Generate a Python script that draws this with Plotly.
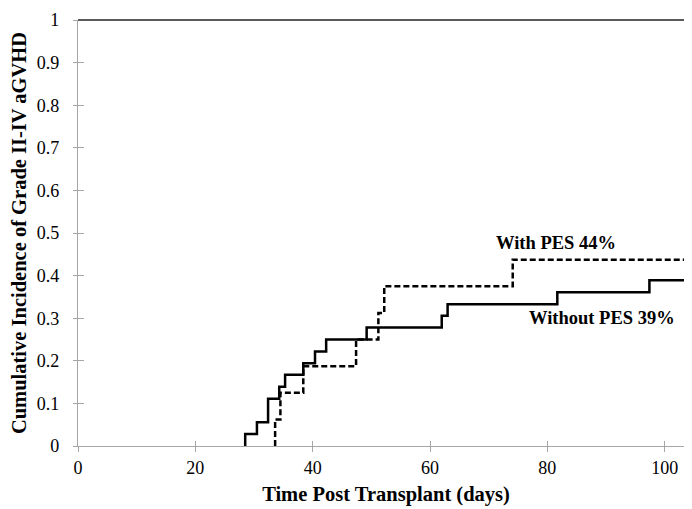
import plotly.graph_objects as go

# Data
without_times = [28.5, 30.5, 32.4, 34.3, 35.3, 38.4, 40.4, 42.3, 49.2, 62.0, 63.0, 81.7, 97.4]
without_vals = [0.028, 0.056, 0.111, 0.139, 0.167, 0.194, 0.222, 0.250, 0.278, 0.306, 0.333, 0.361, 0.389]
with_times = [33.6, 34.5, 38.4, 47.4, 51.2, 52.2, 74.1]
with_vals = [0.0625, 0.125, 0.1875, 0.25, 0.3125, 0.375, 0.4375]
x_end = 105
x_ticks = [0, 20, 40, 60, 80, 100]
y_ticks = [0, 0.1, 0.2, 0.3, 0.4, 0.5, 0.6, 0.7, 0.8, 0.9, 1]
label_with = "With PES 44%"
label_without = "Without PES 39%"
x_title = "Time Post Transplant (days)"
y_title = "Cumulative Incidence of Grade II-IV aGVHD"

FONT = "Liberation Serif"
AXIS_GRAY = "#a6a6a6"


def step_xy(times, vals):
    xs = [times[0]] + list(times) + [x_end]
    ys = [0] + list(vals) + [vals[-1]]
    return xs, ys


fig = go.Figure()
wx, wy = step_xy(without_times, without_vals)
dx, dy = step_xy(with_times, with_vals)
fig.add_trace(go.Scatter(x=wx, y=wy, mode="lines", line=dict(color="black", width=2.5, shape="hv"),
                         showlegend=False, hoverinfo="skip"))
fig.add_trace(go.Scatter(x=dx, y=dy, mode="lines", line=dict(color="black", width=2.5, shape="hv", dash="6px,3px"),
                         showlegend=False, hoverinfo="skip"))
# invisible trace so the overlay axes (inner halves of the tick marks) are drawn
fig.add_trace(go.Scatter(x=[0], y=[0], xaxis="x2", yaxis="y2", mode="markers",
                         marker=dict(opacity=0), showlegend=False, hoverinfo="skip"))

fig.add_annotation(x=81.4, y=0.476, text="<b>%s</b>" % label_with, showarrow=False,
                   font=dict(family=FONT, size=18.5, color="black"))
fig.add_annotation(x=89.4, y=0.301, text="<b>%s</b>" % label_without, showarrow=False,
                   font=dict(family=FONT, size=18.5, color="black"))

# top (black) and right (gray) border lines
fig.add_shape(type="line", xref="paper", yref="paper", x0=0, x1=1, y0=1, y1=1,
              line=dict(color="#222222", width=1.5))
fig.add_shape(type="line", xref="paper", yref="paper", x0=1, x1=1, y0=0, y1=1,
              line=dict(color=AXIS_GRAY, width=1.5))

fig.update_layout(
    width=692, height=509,
    margin=dict(l=70, r=6, t=12, b=71, autoexpand=False),
    paper_bgcolor="white", plot_bgcolor="white",
    xaxis=dict(range=[0, x_end], tickvals=x_ticks, automargin=False,
               showgrid=False, zeroline=False, showline=True, linecolor=AXIS_GRAY, linewidth=1.2,
               ticks="outside", ticklen=5, tickcolor=AXIS_GRAY,
               tickfont=dict(family=FONT, size=18, color="black"),
               title=dict(text="<b>%s</b>" % x_title, font=dict(family=FONT, size=20.5, color="black"), standoff=9)),
    yaxis=dict(range=[0, 1], tickvals=y_ticks, automargin=False,
               showgrid=False, zeroline=False, showline=True, linecolor=AXIS_GRAY, linewidth=1.2,
               ticks="outside", ticklen=4, tickcolor=AXIS_GRAY, ticklabelstandoff=10,
               tickfont=dict(family=FONT, size=18, color="black"),
               title=dict(text="<b>%s</b>" % y_title, font=dict(family=FONT, size=20.5, color="black"), standoff=10)),
    xaxis2=dict(overlaying="x", matches="x", range=[0, x_end], tickvals=x_ticks, showticklabels=False,
                showgrid=False, zeroline=False, showline=False, automargin=False,
                ticks="inside", ticklen=5, tickcolor=AXIS_GRAY),
    yaxis2=dict(overlaying="y", matches="y", range=[0, 1], tickvals=y_ticks, showticklabels=False,
                showgrid=False, zeroline=False, showline=False, automargin=False,
                ticks="inside", ticklen=6, tickcolor=AXIS_GRAY),
)

fig.write_html("out.html")
